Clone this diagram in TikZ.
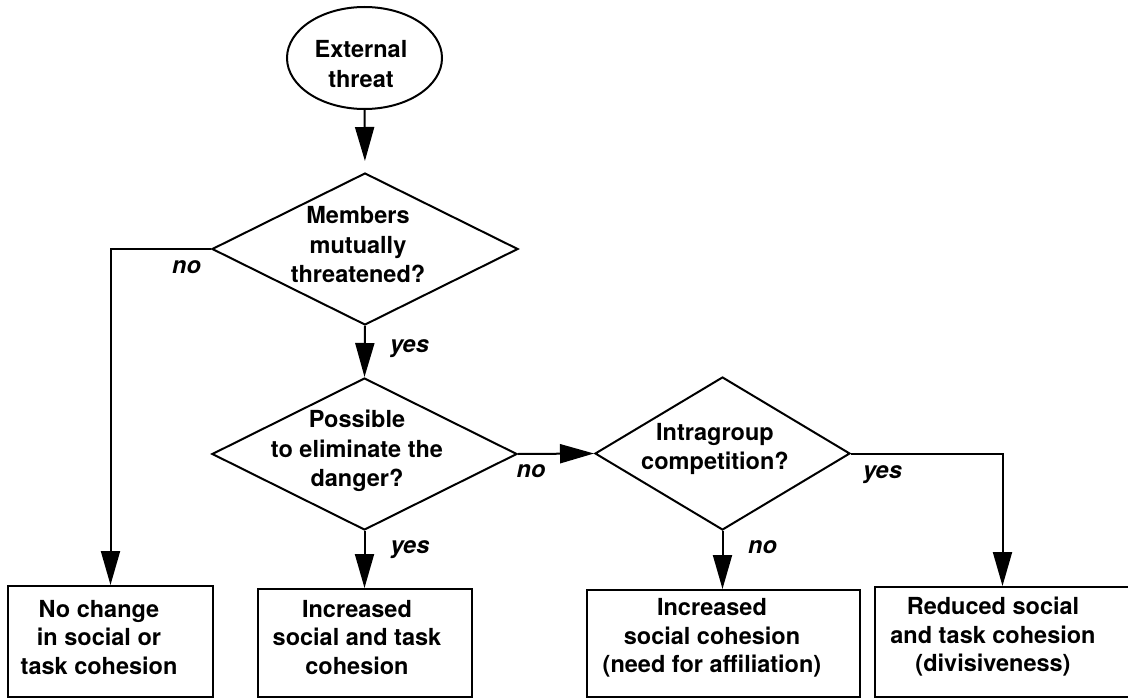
\documentclass[tikz,border=0pt]{standalone}
\usepackage{fontspec}
\setmainfont{TeX Gyre Heros}
\usetikzlibrary{shapes.geometric,arrows.meta}
\tikzset{
  shp/.style={draw=black, line width=2pt, inner sep=0pt},
  dia/.style={shp, shape=diamond},
  bx/.style={shp, rectangle},
  oval/.style={shp, ellipse},
  txt/.style={align=center, inner sep=0pt, font=\bfseries\fontsize{23.5}{29.5}\selectfont},
  btxt/.style={align=center, inner sep=0pt, font=\bfseries\fontsize{23.5}{28.5}\selectfont},
  lbl/.style={inner sep=0pt, font=\bfseries\itshape\fontsize{23.5}{27}\selectfont},
  arr/.style={line width=2pt, -{Triangle[length=34pt,width=19pt]}},
}
\begin{document}
\begin{tikzpicture}[x=1pt,y=-1pt]
\useasboundingbox (0,0) rectangle (1128,698);
\clip (0,0) rectangle (1128,698);
% shapes
\node[oval, minimum width=155pt, minimum height=102pt] (el) at (364.5,58) {};
\node[dia, minimum width=306pt, minimum height=152pt] (d1) at (365,249) {};
\node[dia, minimum width=305pt, minimum height=152pt] (d2) at (364.5,454) {};
\node[dia, minimum width=255pt, minimum height=153pt] (d3) at (722.5,453.5) {};
\node[bx, minimum width=205pt, minimum height=111pt] (b1) at (110.5,641.5) {};
\node[bx, minimum width=214pt, minimum height=108pt] (b2) at (365,643) {};
\node[bx, minimum width=273pt, minimum height=107pt] (b3) at (723.5,643.5) {};
\node[bx, minimum width=255pt, minimum height=110pt] (b4) at (1002.5,642) {};
% texts
\node[txt] (elt) at (361,64) {External\\threat};
\node[txt] (d1t) at (358,245) {Members\\mutually\\threatened?};
\node[txt] (d2t) at (357,451) {Possible\\to eliminate the\\danger?};
\node[txt] (d3t) at (715,449) {Intragroup\\competition?};
\node[btxt] (b1t) at (99,637.5) {No change\\in social or\\task cohesion};
\node[btxt] (b2t) at (357,637.5) {Increased\\social and task\\cohesion};
\node[btxt] (b3t) at (712,638) {Increased\\social cohesion\\(need for affiliation)};
\node[btxt] (b4t) at (993,637) {Reduced social\\and task cohesion\\(divisiveness)};
% connectors
\draw[arr, shorten >=11pt] (el.south) -- (d1.north);
\draw[arr] (d1.south) -- (d2.north);
\draw[arr] (d2.east) -- (d3.west);
\draw[arr] (d2.south) -- (d2.south |- b2.north);
\draw[arr] (d3.south) -- (d3.south |- b3.north);
\draw[arr] (d1.west) -| (b1.north);
\draw[arr] (d3.east) -| (b4.north);
% labels
\node[lbl] (l1) at (186.5,267) {no};
\node[lbl] (l2) at (409.5,348.5) {yes};
\node[lbl] (l3) at (531,471) {no};
\node[lbl] (l4) at (882.5,474.5) {yes};
\node[lbl] (l5) at (410,549.5) {yes};
\node[lbl] (l6) at (762.5,547) {no};
\end{tikzpicture}
\end{document}
